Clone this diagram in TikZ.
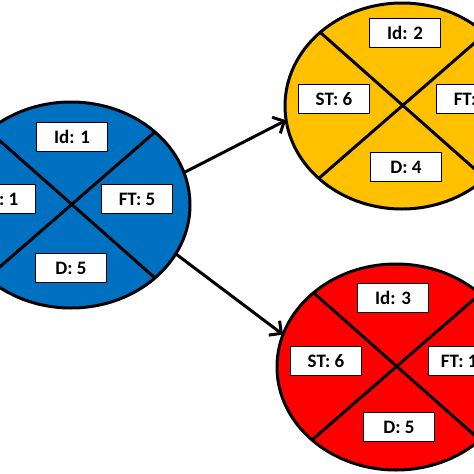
\documentclass[tikz,border=0pt]{standalone}
\usepackage{fontspec}
\setmainfont{Carlito}
\usepackage{tikz}
\usetikzlibrary{arrows.meta,shapes.geometric}
\pgfdeclarelayer{edgelayer}
\pgfdeclarelayer{nodelayer}
\pgfsetlayers{edgelayer,nodelayer,main}
\definecolor{taskblue}{HTML}{0070C0}
\definecolor{taskyellow}{HTML}{FFC000}
\definecolor{taskred}{HTML}{FF0000}
\tikzstyle{none} = []
\tikzstyle{task node} = [ellipse, draw=black, line width=3pt, inner sep=0pt, outer sep=0pt, minimum width=238pt, minimum height=206pt]
\tikzstyle{field box} = [draw=black, fill=white, line width=0.8pt, minimum width=71pt, minimum height=29pt, inner sep=0pt, font=\fontsize{19}{20}\selectfont\bfseries]
\tikzstyle{cross edge} = [draw=black, line width=3pt]
\tikzstyle{dep edge} = [draw=black, line width=3pt, -{Straight Barb[length=9pt, width=18pt, line width=3pt]}]

\begin{document}
\begin{tikzpicture}[x=1pt, y=-1pt]
	\useasboundingbox (0, 0) rectangle (474, 474);
	\begin{pgfonlayer}{edgelayer}
		\node [style=task node, fill=taskblue] (0) at (71, 205) {};
		\node [style=task node, fill=taskyellow, minimum width=234pt] (1) at (402, 106) {};
		\node [style=task node, fill=taskred] (2) at (396, 367) {};
		\draw [style=cross edge] (0.41.7) to (0.221.7);
		\draw [style=cross edge] (0.138.3) to (0.-41.7);
		\draw [style=cross edge] (1.41.7) to (1.221.7);
		\draw [style=cross edge] (1.138.3) to (1.-41.7);
		\draw [style=cross edge] (2.41.7) to (2.221.7);
		\draw [style=cross edge] (2.138.3) to (2.-41.7);
		\draw [style=dep edge] (0.16.4) to (1.187);
		\draw [style=dep edge] (0.-25.3) to (2.164.2);
	\end{pgfonlayer}
	\begin{pgfonlayer}{nodelayer}
		\node [style=field box] (3) at (72, 137) {Id: 1};
		\node [style=field box] (4) at (0, 199) {ST: 1};
		\node [style=field box] (5) at (137, 199) {FT: 5};
		\node [style=field box] (6) at (71, 268) {D: 5};
		\node [style=field box] (7) at (405, 33) {Id: 2};
		\node [style=field box] (8) at (334, 99) {ST: 6};
		\node [style=field box] (9) at (472, 99) {FT: 9};
		\node [style=field box] (10) at (406, 167) {D: 4};
		\node [style=field box] (11) at (393, 298) {Id: 3};
		\node [style=field box] (12) at (326, 361) {ST: 6};
		\node [style=field box] (13) at (464, 361) {FT: 10};
		\node [style=field box] (14) at (399, 427) {D: 5};
	\end{pgfonlayer}
\end{tikzpicture}
\end{document}
